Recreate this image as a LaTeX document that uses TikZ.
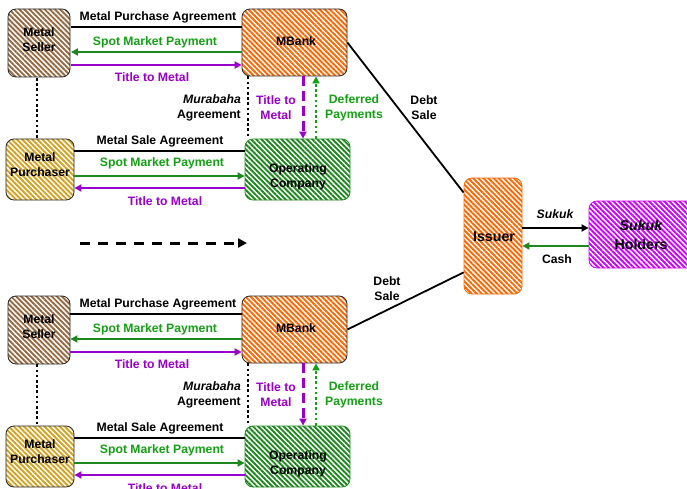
\documentclass[tikz,border=0pt]{standalone}
\usepackage{fontspec}
\setmainfont{Liberation Sans}
\usetikzlibrary{patterns.meta,arrows.meta}

\definecolor{cbrown}{RGB}{150,105,65}
\definecolor{corange}{RGB}{255,102,0}
\definecolor{cgold}{RGB}{212,162,32}
\definecolor{cgreen}{RGB}{30,135,30}
\definecolor{ctgreen}{RGB}{20,160,20}
\definecolor{cpurple}{RGB}{153,0,204}
\definecolor{cmagenta}{RGB}{204,0,255}

\tikzset{
  hatchbox/.style={rounded corners=8pt, inner sep=0pt, line width=0.8pt,
    preaction={fill=white},
    pattern={Lines[angle=-45,distance=3.6pt,line width=1.9pt]},
    pattern color=#1},
  txt/.style={font=\bfseries\fontsize{12.2}{15}\selectfont, align=center, inner sep=0pt},
  bigtxt/.style={txt, font=\bfseries\fontsize{14.2}{19}\selectfont},
  tip/.style={-{Triangle[length=7pt,width=7pt]}},
  agree/.style={line width=2.4pt, black},
  flow/.style={line width=2.4pt, tip},
  dotline/.style={line width=2.6pt, dash pattern=on 2.6pt off 2.6pt},
}

\begin{document}
\begin{tikzpicture}[x=1pt,y=-1pt]
\useasboundingbox (0,0) rectangle (687,489);
\clip (0,0) rectangle (687,489);

% two identical Murabaha blocks, one above the other
\foreach \g/\dy in {a/0,b/287}{
\begin{scope}[shift={(0,\dy)}]
  \node[hatchbox=cbrown, draw=black!85, minimum width=62pt, minimum height=68pt] (s\g) at (39,43) {};
  \node[txt] at (39,40) {Metal\\Seller};
  \node[hatchbox=corange, draw=black!85, minimum width=105pt, minimum height=67pt] (m\g) at (294.5,42.5) {};
  \node[txt] at (296,41) {MBank};
  \node[hatchbox=cgold, draw=black!85, minimum width=68pt, minimum height=61pt] (p\g) at (40,169.5) {};
  \node[txt] at (40,165) {Metal\\Purchaser};
  \node[hatchbox=cgreen, draw=cgreen, minimum width=105pt, minimum height=61pt] (o\g) at (297.5,169.5) {};
  \node[txt] at (298,177) {Operating\\Company};

  % seller -- bank
  \draw[agree] (s\g.east |- 0,27) -- (m\g.west |- 0,27);
  \node[txt] at (158,17) {Metal Purchase Agreement};
  \draw[flow, cgreen] (m\g.west |- 0,52) -- (s\g.east |- 0,52);
  \node[txt, text=ctgreen] at (155,42) {Spot Market Payment};
  \draw[flow, cpurple] (s\g.east |- 0,65) -- (m\g.west |- 0,65);
  \node[txt, text=cpurple] at (152,77) {Title to Metal};

  % purchaser -- operating company
  \draw[agree] (p\g.east |- 0,151) -- (o\g.west |- 0,151);
  \node[txt] at (160,141) {Metal Sale Agreement};
  \draw[flow, cgreen] (p\g.east |- 0,176) -- (o\g.west |- 0,176);
  \node[txt, text=ctgreen] at (162,163) {Spot Market Payment};
  \draw[flow, cpurple] (o\g.west |- 0,188) -- (p\g.east |- 0,188);
  \node[txt, text=cpurple] at (165,201) {Title to Metal};

  % vertical links
  \draw[dotline] (s\g.south -| 37,0) -- (p\g.north -| 37,0);
  \draw[dotline] (m\g.south -| 248,0) -- (o\g.north -| 248,0);
  \node[txt, anchor=east, align=right] at (241,108) {\itshape Murabaha\\Agreement};
  \draw[line width=3pt, cpurple, dash pattern=on 10pt off 5pt, tip] (m\g.south -| 303,0) -- (o\g.north -| 303,0);
  \node[txt, text=cpurple] at (276,108) {Title to\\Metal};
  \draw[line width=2.6pt, ctgreen, dash pattern=on 2.6pt off 2.6pt, tip] (o\g.north -| 316,0) -- (m\g.south -| 316,0);
  \node[txt, text=ctgreen] at (354,108) {Deferred\\Payments};
\end{scope}
}

% sequence arrow between the blocks
\coordinate (q1) at (80,243);
\coordinate (q2) at (247,243);
\draw[line width=3pt, dash pattern=on 10pt off 8pt, -{Triangle[length=9pt,width=9pt]}] (q1) -- (q2);

% issuer and sukuk holders
\node[hatchbox=corange, draw=corange, minimum width=58pt, minimum height=116pt] (iss) at (493,236) {};
\node[bigtxt] at (494,237) {Issuer};
\node[hatchbox=cmagenta, draw=cmagenta, minimum width=120pt, minimum height=67pt] (hold) at (649,234.5) {};
\node[bigtxt] at (641,235) {\itshape Sukuk\\Holders};

\draw[line width=1.8pt] (ma.east) -- ([yshift=-15pt]iss.north west);
\node[txt] at (424,108) {Debt\\Sale};
\draw[line width=1.8pt] (mb.east) -- ([yshift=22pt]iss.south west);
\node[txt] at (387,289) {Debt\\Sale};

\draw[line width=1.8pt, -{Triangle[length=7pt,width=7pt]}] (iss.east |- 0,228) -- (hold.west |- 0,228);
\node[txt] at (555,214) {\itshape Sukuk};
\draw[line width=1.8pt, cgreen, -{Triangle[length=7pt,width=7pt]}] (hold.west |- 0,246) -- (iss.east |- 0,246);
\node[txt] at (557,259) {Cash};
\end{tikzpicture}
\end{document}
